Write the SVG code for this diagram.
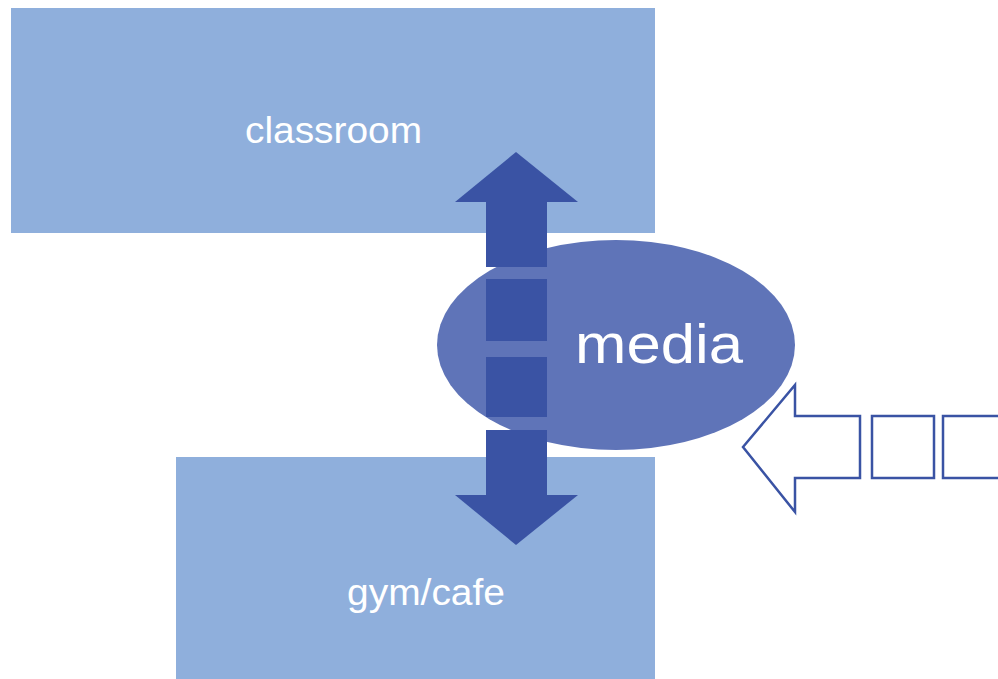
<svg xmlns="http://www.w3.org/2000/svg" width="998" height="679" viewBox="0 0 998 679">
<style>
.room{fill:#8fafdc}
.lbl{fill:#ffffff;font-family:"Liberation Sans",Arial,sans-serif;text-anchor:middle}
.dark{fill:#3a53a4}
.hollow{fill:#ffffff;stroke:#3a53a4;stroke-width:2.5}
</style>
<rect width="998" height="679" fill="#ffffff"/>
<g id="classroom">
<rect class="room" x="11" y="8" width="644" height="225"/>
<text class="lbl" x="333.5" y="143" font-size="36" textLength="177" lengthAdjust="spacingAndGlyphs">classroom</text>
</g>
<g id="gymcafe">
<rect class="room" x="176" y="457" width="479" height="222"/>
<text class="lbl" x="426" y="605" font-size="36" textLength="158" lengthAdjust="spacingAndGlyphs">gym/cafe</text>
</g>
<g id="media">
<ellipse cx="616" cy="345" rx="179" ry="105" fill="#5f74b8"/>
<text class="lbl" x="659" y="363" font-size="55" textLength="168" lengthAdjust="spacingAndGlyphs">media</text>
</g>
<g id="connectors">
<g id="vertical-arrow">
<polygon class="dark" points="516,152 578,202 455,202"/>
<rect class="dark" x="486" y="201" width="61" height="66"/>
<rect class="dark" x="486" y="279" width="61" height="62"/>
<rect class="dark" x="486" y="357" width="61" height="60"/>
<rect class="dark" x="486" y="430" width="61" height="66"/>
<polygon class="dark" points="455,495 578,495 516,545"/>
</g>
<g id="input-arrow">
<polygon class="hollow" points="743,447 795,385 795,416 860,416 860,478 795,478 795,512"/>
<rect class="hollow" x="872" y="416" width="62" height="62"/>
<rect class="hollow" x="943" y="416" width="62" height="62"/>
</g>
</g>
</svg>
